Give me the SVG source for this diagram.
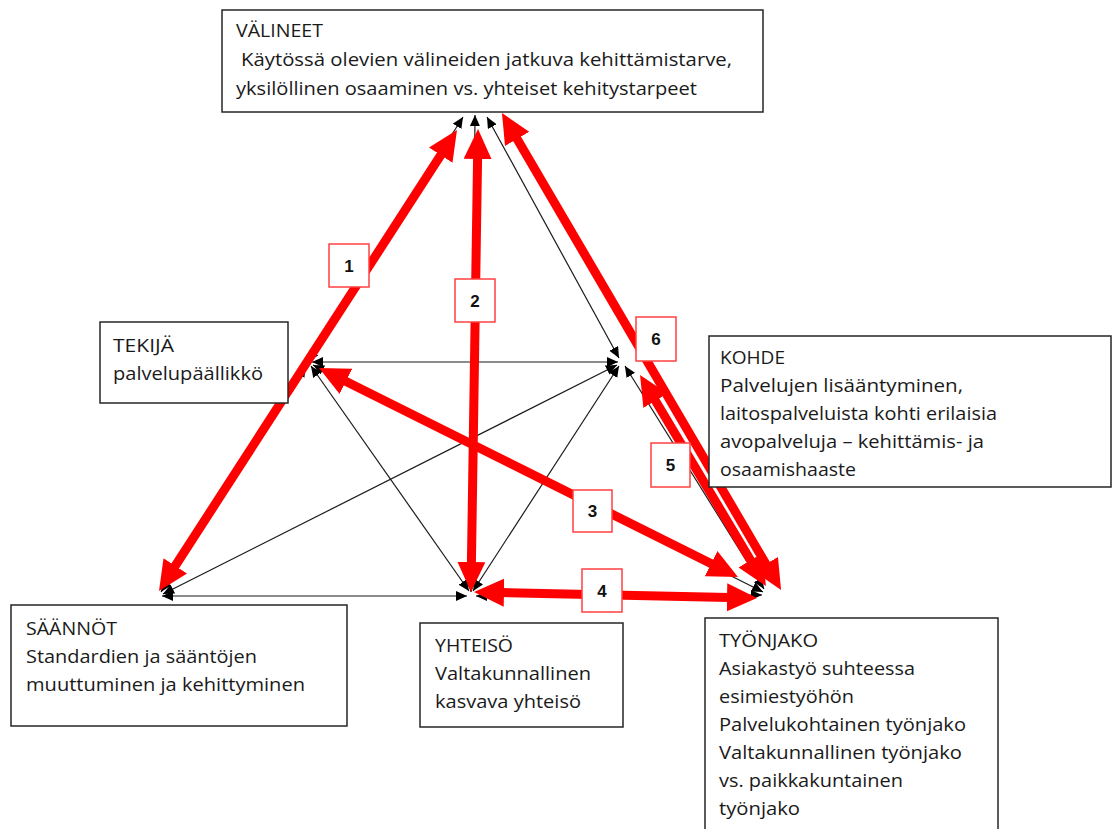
<svg xmlns="http://www.w3.org/2000/svg" width="1113" height="829" viewBox="0 0 1113 829">
  <style>
    .box { fill: #ffffff; stroke: #262626; stroke-width: 1.5; }
    .txt { font-family: "Open Sans", "Liberation Sans", sans-serif; font-size: 17.5px; fill: #1a1a1a; }
    .thin { stroke: #1a1a1a; stroke-width: 1.2; fill: none; marker-start: url(#tipS); marker-end: url(#tipE); }
    .red { stroke: #ff0000; stroke-width: 9; fill: none; marker-start: url(#redS); marker-end: url(#redE); }
    .tag { fill: #ffffff; stroke: #ff4040; stroke-width: 1.5; }
    .num { font-family: "Liberation Sans", Arial, sans-serif; font-size: 17px; font-weight: bold; fill: #111111; text-anchor: middle; }
  </style>
  <defs>
    <marker id="tipE" markerUnits="userSpaceOnUse" markerWidth="12" markerHeight="11" refX="11" refY="5" orient="auto">
      <path d="M0,0 L11,5 L0,10 z" fill="#000000"/>
    </marker>
    <marker id="tipS" markerUnits="userSpaceOnUse" markerWidth="12" markerHeight="11" refX="11" refY="5" orient="auto-start-reverse">
      <path d="M0,0 L11,5 L0,10 z" fill="#000000"/>
    </marker>
    <marker id="redE" markerUnits="userSpaceOnUse" markerWidth="31" markerHeight="29" refX="2" refY="14" orient="auto">
      <path d="M0,0 L30,14 L0,28 z" fill="#ff0000"/>
    </marker>
    <marker id="redS" markerUnits="userSpaceOnUse" markerWidth="31" markerHeight="29" refX="2" refY="14" orient="auto-start-reverse">
      <path d="M0,0 L30,14 L0,28 z" fill="#ff0000"/>
    </marker>
  </defs>

  <rect width="1113" height="829" fill="#ffffff"/>

  <!-- connectors: thin double-headed links, then the numbered red tensions -->
  <g id="connectors">
    <line class="thin" x1="463" y1="117" x2="308" y2="362"/>
    <line class="thin" x1="475" y1="115" x2="471" y2="592"/>
    <line class="thin" x1="487" y1="117" x2="619" y2="358"/>
    <line class="thin" x1="312" y1="362" x2="618" y2="362"/>
    <line class="thin" x1="306" y1="366" x2="161" y2="592"/>
    <line class="thin" x1="311" y1="366" x2="469" y2="591"/>
    <line class="thin" x1="313" y1="365" x2="763" y2="592"/>
    <line class="thin" x1="163" y1="594" x2="617" y2="365"/>
    <line class="thin" x1="162" y1="596" x2="467" y2="596"/>
    <line class="thin" x1="473" y1="591" x2="619" y2="366"/>
    <line class="thin" x1="476" y1="596" x2="762" y2="595"/>
    <line class="thin" x1="625" y1="366" x2="764" y2="589"/>

    <line class="red" x1="441.8" y1="153.5" x2="174.2" y2="567.5"/>
    <line class="red" x1="477.6" y1="157" x2="471.4" y2="564"/>
    <line class="red" x1="344.1" y1="380.5" x2="712.9" y2="564.5"/>
    <line class="red" x1="502" y1="592.6" x2="729" y2="597.4"/>
    <line class="red" x1="654.4" y1="399" x2="751.6" y2="562"/>
    <line class="red" x1="516.1" y1="137.2" x2="766.9" y2="565.8"/>
  </g>

  <g id="labels">
    <rect class="tag" x="329" y="244" width="40" height="43"/>
    <text class="num" x="349" y="272">1</text>
    <rect class="tag" x="455" y="279" width="40" height="43"/>
    <text class="num" x="475" y="307">2</text>
    <rect class="tag" x="573" y="490" width="39" height="42"/>
    <text class="num" x="592.5" y="517">3</text>
    <rect class="tag" x="582" y="569" width="40" height="43"/>
    <text class="num" x="602" y="597">4</text>
    <rect class="tag" x="651" y="443" width="39" height="44"/>
    <text class="num" x="670.5" y="471">5</text>
    <rect class="tag" x="636" y="317" width="40" height="44"/>
    <text class="num" x="656" y="345">6</text>
  </g>

  <g id="valineet">
    <rect class="box" x="222" y="10" width="541" height="102"/>
    <text class="txt" x="236" y="37" textLength="87" lengthAdjust="spacingAndGlyphs">VÄLINEET</text>
    <text class="txt" x="241" y="66" textLength="491" lengthAdjust="spacingAndGlyphs">Käytössä olevien välineiden jatkuva kehittämistarve,</text>
    <text class="txt" x="236" y="95" textLength="461" lengthAdjust="spacingAndGlyphs">yksilöllinen osaaminen vs. yhteiset kehitystarpeet</text>
  </g>

  <g id="tekija">
    <rect class="box" x="100" y="322" width="188" height="81"/>
    <text class="txt" x="113" y="352" textLength="61" lengthAdjust="spacingAndGlyphs">TEKIJÄ</text>
    <text class="txt" x="113" y="380" textLength="150" lengthAdjust="spacingAndGlyphs">palvelupäällikkö</text>
  </g>

  <g id="kohde">
    <rect class="box" x="709" y="336" width="402" height="151"/>
    <text class="txt" x="720" y="364" textLength="65" lengthAdjust="spacingAndGlyphs">KOHDE</text>
    <text class="txt" x="720" y="392" textLength="243" lengthAdjust="spacingAndGlyphs">Palvelujen lisääntyminen,</text>
    <text class="txt" x="720" y="420" textLength="277" lengthAdjust="spacingAndGlyphs">laitospalveluista kohti erilaisia</text>
    <text class="txt" x="720" y="448" textLength="264" lengthAdjust="spacingAndGlyphs">avopalveluja – kehittämis- ja</text>
    <text class="txt" x="720" y="476" textLength="136" lengthAdjust="spacingAndGlyphs">osaamishaaste</text>
  </g>

  <g id="saannot">
    <rect class="box" x="11" y="605" width="336" height="121"/>
    <text class="txt" x="26" y="635" textLength="91" lengthAdjust="spacingAndGlyphs">SÄÄNNÖT</text>
    <text class="txt" x="26" y="663" textLength="231" lengthAdjust="spacingAndGlyphs">Standardien ja sääntöjen</text>
    <text class="txt" x="26" y="691" textLength="279" lengthAdjust="spacingAndGlyphs">muuttuminen ja kehittyminen</text>
  </g>

  <g id="yhteiso">
    <rect class="box" x="420" y="623" width="203" height="104"/>
    <text class="txt" x="435" y="652" textLength="78" lengthAdjust="spacingAndGlyphs">YHTEISÖ</text>
    <text class="txt" x="435" y="680" textLength="156" lengthAdjust="spacingAndGlyphs">Valtakunnallinen</text>
    <text class="txt" x="435" y="708" textLength="146" lengthAdjust="spacingAndGlyphs">kasvava yhteisö</text>
  </g>

  <g id="tyonjako">
    <rect class="box" x="705" y="618" width="293" height="220"/>
    <text class="txt" x="719" y="647" textLength="99" lengthAdjust="spacingAndGlyphs">TYÖNJAKO</text>
    <text class="txt" x="719" y="675" textLength="196" lengthAdjust="spacingAndGlyphs">Asiakastyö suhteessa</text>
    <text class="txt" x="719" y="703" textLength="135" lengthAdjust="spacingAndGlyphs">esimiestyöhön</text>
    <text class="txt" x="719" y="731" textLength="247" lengthAdjust="spacingAndGlyphs">Palvelukohtainen työnjako</text>
    <text class="txt" x="719" y="759" textLength="243" lengthAdjust="spacingAndGlyphs">Valtakunnallinen työnjako</text>
    <text class="txt" x="719" y="787" textLength="184" lengthAdjust="spacingAndGlyphs">vs. paikkakuntainen</text>
    <text class="txt" x="719" y="815" textLength="81" lengthAdjust="spacingAndGlyphs">työnjako</text>
  </g>
</svg>
